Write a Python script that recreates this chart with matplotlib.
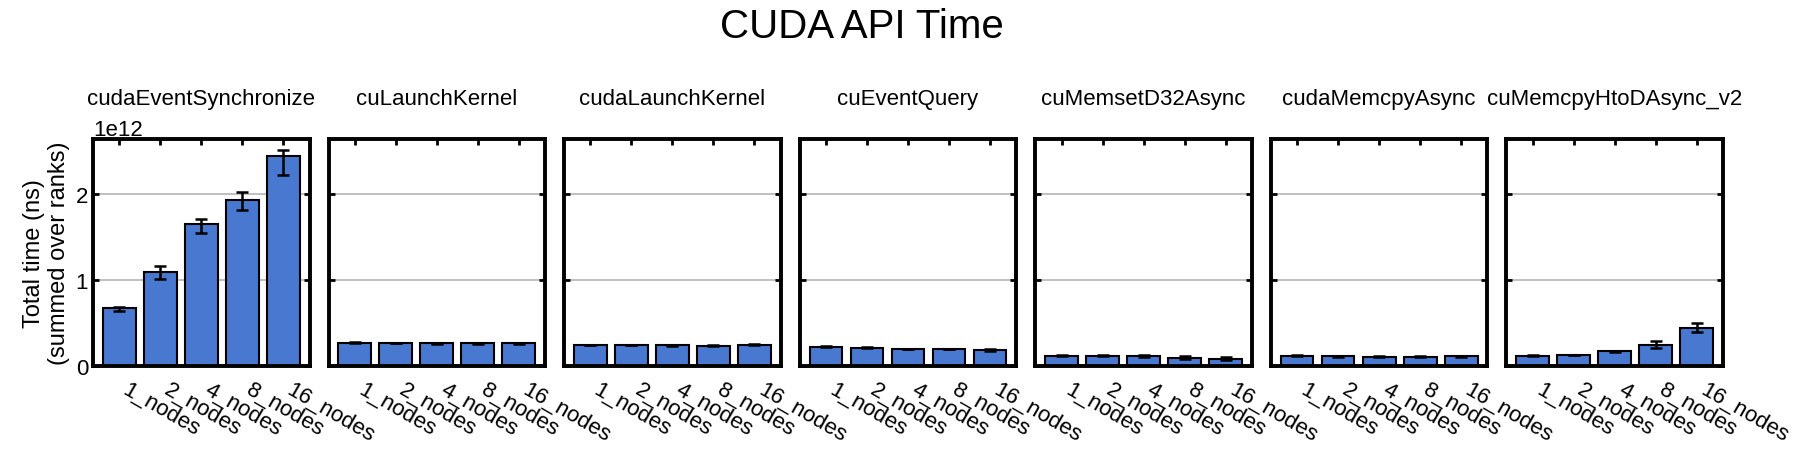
import numpy as np
import matplotlib
matplotlib.use('Agg')
import matplotlib.pyplot as plt
from matplotlib.ticker import MultipleLocator

plt.rcParams['font.family'] = ['Liberation Sans', 'DejaVu Sans']

functions = ['cudaEventSynchronize', 'cuLaunchKernel', 'cudaLaunchKernel', 'cuEventQuery',
             'cuMemsetD32Async', 'cudaMemcpyAsync', 'cuMemcpyHtoDAsync_v2']
nodes = ['1_nodes', '2_nodes', '4_nodes', '8_nodes', '16_nodes']

# mean total time per function (units of 1e12 ns), one row per function
mean_time = [
    [0.671, 1.097, 1.655, 1.934, 2.445],
    [0.270, 0.266, 0.265, 0.265, 0.265],
    [0.246, 0.245, 0.242, 0.236, 0.245],
    [0.225, 0.215, 0.196, 0.196, 0.184],
    [0.120, 0.120, 0.112, 0.097, 0.085],
    [0.120, 0.112, 0.108, 0.108, 0.112],
    [0.120, 0.130, 0.170, 0.250, 0.438],
]
# confidence interval bounds (same units)
ci_low = [
    [0.640, 1.010, 1.547, 1.810, 2.220],
    [0.262, 0.262, 0.261, 0.261, 0.258],
    [0.242, 0.242, 0.238, 0.232, 0.239],
    [0.221, 0.211, 0.192, 0.192, 0.176],
    [0.117, 0.116, 0.100, 0.080, 0.070],
    [0.117, 0.109, 0.105, 0.105, 0.109],
    [0.117, 0.127, 0.162, 0.210, 0.390],
]
ci_high = [
    [0.690, 1.166, 1.713, 2.020, 2.510],
    [0.280, 0.270, 0.269, 0.269, 0.272],
    [0.250, 0.248, 0.246, 0.240, 0.251],
    [0.229, 0.219, 0.200, 0.200, 0.192],
    [0.123, 0.124, 0.124, 0.113, 0.105],
    [0.123, 0.115, 0.111, 0.111, 0.115],
    [0.123, 0.133, 0.178, 0.290, 0.500],
]

fs = 16

fig, axes = plt.subplots(1, len(functions), figsize=(18.06, 4.64), dpi=100, sharey=True)
fig.subplots_adjust(left=0.0515, right=0.954, top=0.698, bottom=0.209, wspace=0.088)

x = np.arange(len(nodes))
for i, ax in enumerate(axes):
    m = np.array(mean_time[i]) * 1e12
    lo = np.array(ci_low[i]) * 1e12
    hi = np.array(ci_high[i]) * 1e12
    ax.bar(x, m, width=0.8, color='#4878d0', edgecolor='black', linewidth=1.5, zorder=2)
    ax.errorbar(x, m, yerr=[m - lo, hi - m], fmt='none', ecolor='black',
                elinewidth=1.8, capsize=4.5, capthick=1.8, zorder=3)
    ax.set_axisbelow(True)
    ax.grid(axis='y', color='#b5b5b5', linewidth=1.2)
    ax.set_xticks(x)
    ax.set_xticklabels(nodes, rotation=-30, ha='left', fontsize=fs)
    ax.yaxis.set_major_locator(MultipleLocator(1e12))
    ax.tick_params(direction='in', top=True, right=True, length=4, width=2, labelsize=fs)
    ax.tick_params(axis='x', pad=9)
    for sp in ax.spines.values():
        sp.set_linewidth(2.8)
    ax.set_title(functions[i], fontsize=fs, y=1.0, pad=25)

axes[0].set_ylabel('Total time (ns)\n(summed over ranks)', fontsize=17)
axes[0].yaxis.get_offset_text().set_fontsize(fs)

fig.suptitle('CUDA API Time', fontsize=29, x=0.477, y=0.983)
fig.savefig('out.png', dpi=100)
